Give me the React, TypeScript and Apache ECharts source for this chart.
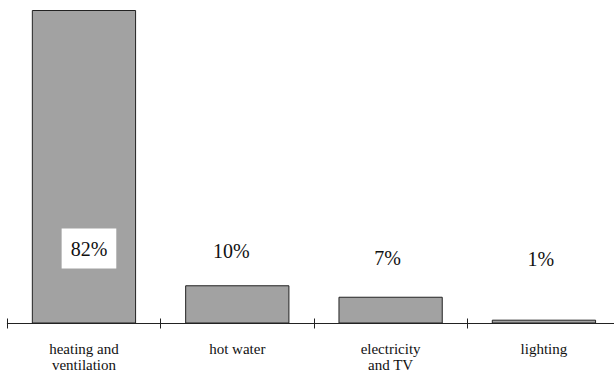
import React, { useEffect, useRef } from "react";
import * as echarts from "echarts";

const categories = ["heating and\nventilation", "hot water", "electricity\nand TV", "lighting"];
const shares = [82, 10, 7, 1];
const shareLabels = ["82%", "10%", "7%", "1%"];

export default function App() {
  const ref = useRef<HTMLDivElement>(null);
  useEffect(() => {
    const chart = echarts.init(ref.current!, null, { renderer: "svg" });
    const font = "'Liberation Serif', 'Times New Roman', serif";
    const distances = [55, 63, 56, 55];
    const offsets = [[5, 0], [-6, 0], [-3, 0], [-3, 0]];
    chart.setOption({
      animation: false,
      backgroundColor: "#ffffff",
      grid: { left: 7.3, top: 10, width: 613.3, height: 313.5, containLabel: false },
      xAxis: [
        {
          type: "category",
          data: categories,
          position: "bottom",
          boundaryGap: true,
          axisLine: { show: true, lineStyle: { color: "#222", width: 1 } },
          axisTick: { show: true, length: 5, inside: false, lineStyle: { color: "#222", width: 1 } },
          axisLabel: {
            color: "#111",
            fontFamily: font,
            fontSize: 15,
            lineHeight: 16,
            margin: 17,
            interval: 0,
          },
        },
        {
          type: "category",
          data: categories,
          position: "bottom",
          offset: 0,
          boundaryGap: true,
          axisLine: { show: false },
          axisTick: { show: true, length: 5, inside: true, lineStyle: { color: "#222", width: 1 } },
          axisLabel: { show: false },
        },
      ],
      yAxis: { type: "value", min: 0, max: 82, show: false, splitLine: { show: false } },
      series: [
        {
          type: "bar",
          xAxisIndex: 0,
          barWidth: "68%",
          data: shares.map((v, i) => ({
            value: v,
            label: {
              show: true,
              formatter: shareLabels[i],
              position: "insideBottom",
              distance: distances[i],
              offset: offsets[i],
              fontFamily: font,
              fontSize: 20,
              color: "#111",
              ...(i === 0
                ? { backgroundColor: "#ffffff", padding: [10, 9, 10, 9] }
                : {}),
            },
          })),
          itemStyle: { color: "#a2a2a2", borderColor: "#222", borderWidth: 1 },
        },
      ],
    });
    return () => chart.dispose();
  }, []);
  return (
    <div style={{ position: "fixed", left: 0, top: 0, width: 614, height: 373, overflow: "hidden", background: "#fff" }}>
      <div ref={ref} style={{ width: 630, height: 373 }} />
    </div>
  );
}
